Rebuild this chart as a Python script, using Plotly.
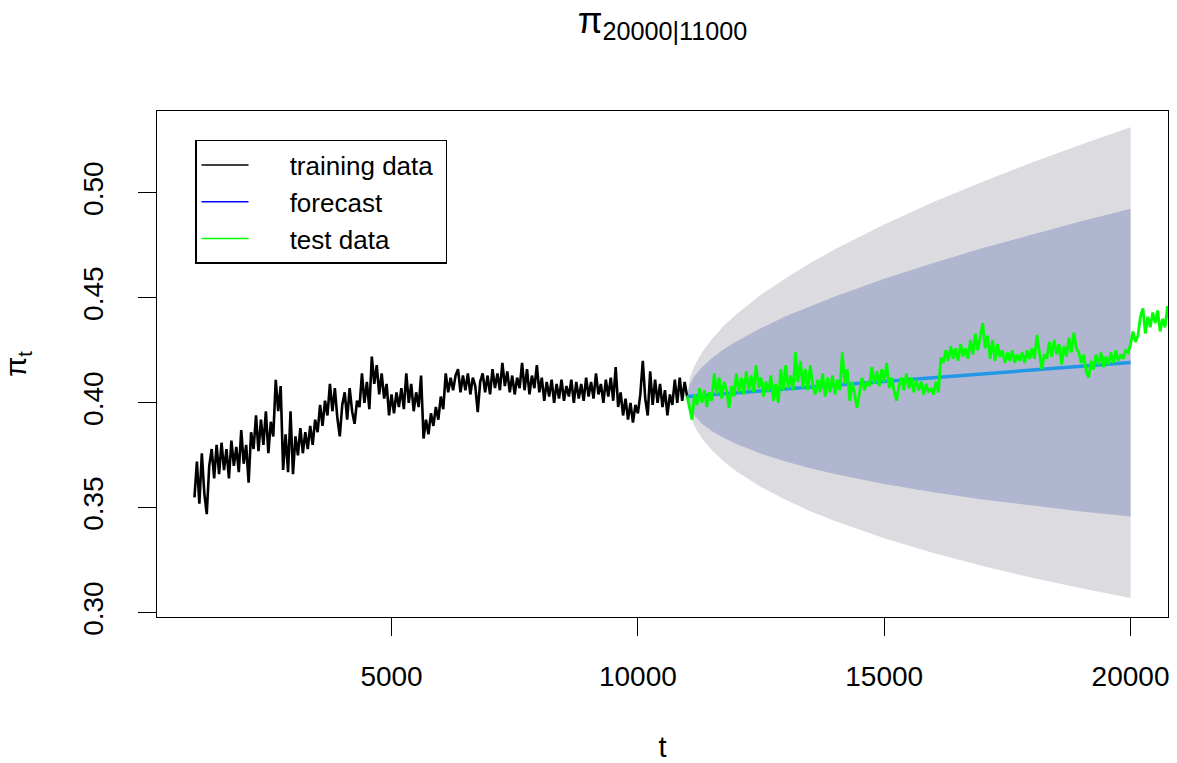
import numpy as np
import plotly.graph_objects as go

# ---------------- data ----------------
train_t = np.arange(1000, 11001, 50)
train_y = [
    0.355, 0.372, 0.352, 0.376, 0.357, 0.347, 0.370, 0.378, 0.364, 0.380,
    0.366, 0.381, 0.368, 0.378, 0.364, 0.382, 0.370, 0.379, 0.367, 0.387,
    0.371, 0.380, 0.362, 0.386, 0.378, 0.394, 0.377, 0.392, 0.380, 0.396,
    0.376, 0.391, 0.384, 0.411, 0.396, 0.408, 0.368, 0.385, 0.367, 0.396,
    0.366, 0.384, 0.375, 0.388, 0.376, 0.386, 0.378, 0.389, 0.380, 0.392,
    0.386, 0.399, 0.389, 0.401, 0.394, 0.409, 0.396, 0.407, 0.393, 0.384,
    0.399, 0.405, 0.392, 0.407, 0.396, 0.390, 0.401, 0.398, 0.414, 0.400,
    0.410, 0.397, 0.422, 0.409, 0.418, 0.404, 0.414, 0.402, 0.409, 0.394,
    0.404, 0.395, 0.405, 0.398, 0.407, 0.397, 0.414, 0.400, 0.409, 0.396,
    0.405, 0.398, 0.413, 0.383, 0.392, 0.385, 0.395, 0.389, 0.398, 0.392,
    0.403, 0.397, 0.414, 0.405, 0.412, 0.406, 0.413, 0.416, 0.405, 0.413,
    0.406, 0.414, 0.404, 0.412, 0.408, 0.3956, 0.410, 0.414, 0.405, 0.413,
    0.404, 0.416, 0.407, 0.414, 0.406, 0.419, 0.408, 0.415, 0.405, 0.413,
    0.404, 0.412, 0.407, 0.419, 0.406, 0.416, 0.404, 0.413, 0.407, 0.418,
    0.405, 0.412, 0.401, 0.410, 0.403, 0.411, 0.400, 0.409, 0.402, 0.411,
    0.401, 0.408, 0.403, 0.411, 0.400, 0.410, 0.402, 0.409, 0.401, 0.412,
    0.403, 0.410, 0.402, 0.414, 0.404, 0.409, 0.400, 0.411, 0.403, 0.412,
    0.401, 0.417, 0.398, 0.405, 0.394, 0.402, 0.392, 0.400, 0.3906, 0.399,
    0.395, 0.404, 0.420, 0.402, 0.394, 0.415, 0.399, 0.411, 0.400, 0.409,
    0.398, 0.406, 0.394, 0.404, 0.399, 0.411, 0.400, 0.412, 0.401, 0.410,
    0.403,
]

test_t = np.arange(11000, 20801, 50)
test_y = [
    0.403, 0.398, 0.392, 0.404, 0.399, 0.407, 0.400, 0.406, 0.398, 0.405,
    0.401, 0.414, 0.404, 0.412, 0.402, 0.410, 0.406, 0.3976, 0.408, 0.403,
    0.414, 0.405, 0.412, 0.404, 0.415, 0.406, 0.413, 0.405, 0.418, 0.407,
    0.412, 0.403, 0.410, 0.405, 0.413, 0.401, 0.409, 0.400, 0.416, 0.406,
    0.418, 0.407, 0.413, 0.406, 0.424, 0.410, 0.420, 0.407, 0.416, 0.406,
    0.418, 0.408, 0.404, 0.411, 0.405, 0.414, 0.403, 0.412, 0.405, 0.413,
    0.404, 0.411, 0.406, 0.424, 0.409, 0.416, 0.401, 0.410, 0.404, 0.3976,
    0.405, 0.412, 0.406, 0.410, 0.408, 0.417, 0.409, 0.415, 0.408, 0.416,
    0.410, 0.419, 0.407, 0.412, 0.406, 0.401, 0.408, 0.412, 0.406, 0.414,
    0.407, 0.412, 0.405, 0.411, 0.406, 0.410, 0.404, 0.409, 0.405, 0.407,
    0.404, 0.410, 0.405, 0.4216, 0.419, 0.425, 0.420, 0.427, 0.421, 0.426,
    0.420, 0.428, 0.422, 0.426, 0.421, 0.430, 0.423, 0.433, 0.425, 0.431,
    0.438, 0.426, 0.432, 0.421, 0.430, 0.420, 0.428, 0.422, 0.425, 0.419,
    0.424, 0.420, 0.425, 0.419, 0.423, 0.420, 0.424, 0.419, 0.425, 0.421,
    0.426, 0.421, 0.4324, 0.424, 0.416, 0.423, 0.421, 0.429, 0.422, 0.430,
    0.423, 0.428, 0.4184, 0.427, 0.422, 0.431, 0.424, 0.4334, 0.426, 0.424,
    0.419, 0.423, 0.415, 0.412, 0.420, 0.416, 0.423, 0.418, 0.424, 0.417,
    0.422, 0.418, 0.424, 0.419, 0.425, 0.420, 0.423, 0.421, 0.425, 0.424,
    0.428, 0.434, 0.429, 0.432, 0.441, 0.445, 0.433, 0.441, 0.436, 0.443,
    0.438, 0.444, 0.434, 0.440, 0.436, 0.446, 0.438,
]

fc_t = [11000, 20000]
fc_mean = [0.4030, 0.4192]

band_t = [11000, 11050, 11150, 11300, 11500, 11750, 12000, 12500, 13000,
          13500, 14000, 15000, 16000, 17000, 18000, 19000, 20000]
up95 = [0.4030, 0.4115, 0.4178, 0.4240, 0.4303, 0.4368, 0.4422, 0.4515, 0.4594,
        0.4666, 0.4731, 0.4849, 0.4956, 0.5053, 0.5145, 0.5231, 0.5313]
lo95 = [0.4030, 0.3947, 0.3888, 0.3830, 0.3775, 0.3720, 0.3674, 0.3599, 0.3538,
        0.3484, 0.3437, 0.3355, 0.3285, 0.3223, 0.3167, 0.3117, 0.3071]
up80 = [0.4030, 0.4086, 0.4128, 0.4169, 0.4212, 0.4256, 0.4292, 0.4356, 0.4412,
        0.4461, 0.4507, 0.4591, 0.4666, 0.4737, 0.4802, 0.4865, 0.4925]
lo80 = [0.4030, 0.3976, 0.3938, 0.3901, 0.3866, 0.3832, 0.3804, 0.3758, 0.3721,
        0.3689, 0.3661, 0.3613, 0.3574, 0.3540, 0.3510, 0.3483, 0.3459]

x_ticks = [5000, 10000, 15000, 20000]
x_ticktext = ["5000", "10000", "15000", "20000"]
y_ticks = [0.30, 0.35, 0.40, 0.45, 0.50]
y_ticktext = ["0.30", "0.35", "0.40", "0.45", "0.50"]

legend_names = ["training data", "forecast", "test data"]
legend_colors = ["#000000", "#0000FF", "#00FF00"]

# ---------------- figure ----------------
FONT = "Liberation Sans, Arial, Helvetica, sans-serif"
fig = go.Figure()

def band(tt, up, lo, color):
    xs = list(tt) + list(tt)[::-1]
    ys = list(up) + list(lo)[::-1]
    return go.Scatter(x=xs, y=ys, fill="toself", fillcolor=color, mode="lines",
                      line=dict(width=0, color=color), showlegend=False,
                      hoverinfo="skip")

fig.add_trace(band(band_t, up95, lo95, "#DBDBE0"))
fig.add_trace(band(band_t, up80, lo80, "#B0B5D0"))
fig.add_trace(go.Scatter(x=train_t, y=train_y, mode="lines",
                         line=dict(color="#000000", width=2.6), showlegend=False))
fig.add_trace(go.Scatter(x=fc_t, y=fc_mean, mode="lines",
                         line=dict(color="#2297E6", width=3.5), showlegend=False))
fig.add_trace(go.Scatter(x=test_t, y=test_y, mode="lines",
                         line=dict(color="#00FF00", width=2.8), showlegend=False))

lead = "\u00a0" * 5
trail = "\u00a0"
for name, col in zip(legend_names, legend_colors):
    fig.add_trace(go.Scatter(x=[None], y=[None], mode="lines",
                             name=lead + name + trail,
                             line=dict(color=col, width=1.5), showlegend=True))

axis_common = dict(showgrid=False, zeroline=False, showline=True, linecolor="black",
                   linewidth=1, mirror=True, ticks="outside", ticklen=18,
                   tickcolor="black", tickwidth=1, automargin=False,
                   tickfont=dict(family=FONT, size=28, color="black"))

fig.update_layout(
    width=1177, height=763,
    margin=dict(l=157, r=9, t=111, b=146, autoexpand=False),
    paper_bgcolor="white", plot_bgcolor="white",
    font=dict(family=FONT, color="black"),
    title=dict(text="π<sub>20000|11000</sub>", x=0.5, xref="paper",
               y=1 - 20 / 763, yref="container", yanchor="middle",
               font=dict(family=FONT, size=36, color="black")),
    xaxis=dict(range=[240, 20760], tickvals=x_ticks, ticktext=x_ticktext,
               ticklabelstandoff=16,
               title=dict(text="t", standoff=46,
                          font=dict(family=FONT, size=29, color="black")),
               **axis_common),
    yaxis=dict(range=[0.298, 0.539], tickvals=y_ticks, ticktext=y_ticktext,
               tickangle=-90, ticklabelstandoff=24,
               title=dict(text="π<sub>t</sub>", standoff=46,
                          font=dict(family=FONT, size=29, color="black")),
               **axis_common),
    legend=dict(x=0.0376, y=0.9427, xanchor="left", yanchor="top",
                bgcolor="white", bordercolor="black", borderwidth=1.5,
                font=dict(family=FONT, size=26, color="black"),
                itemwidth=47, tracegroupgap=0),
    showlegend=True,
)

fig.write_html("out.html")
